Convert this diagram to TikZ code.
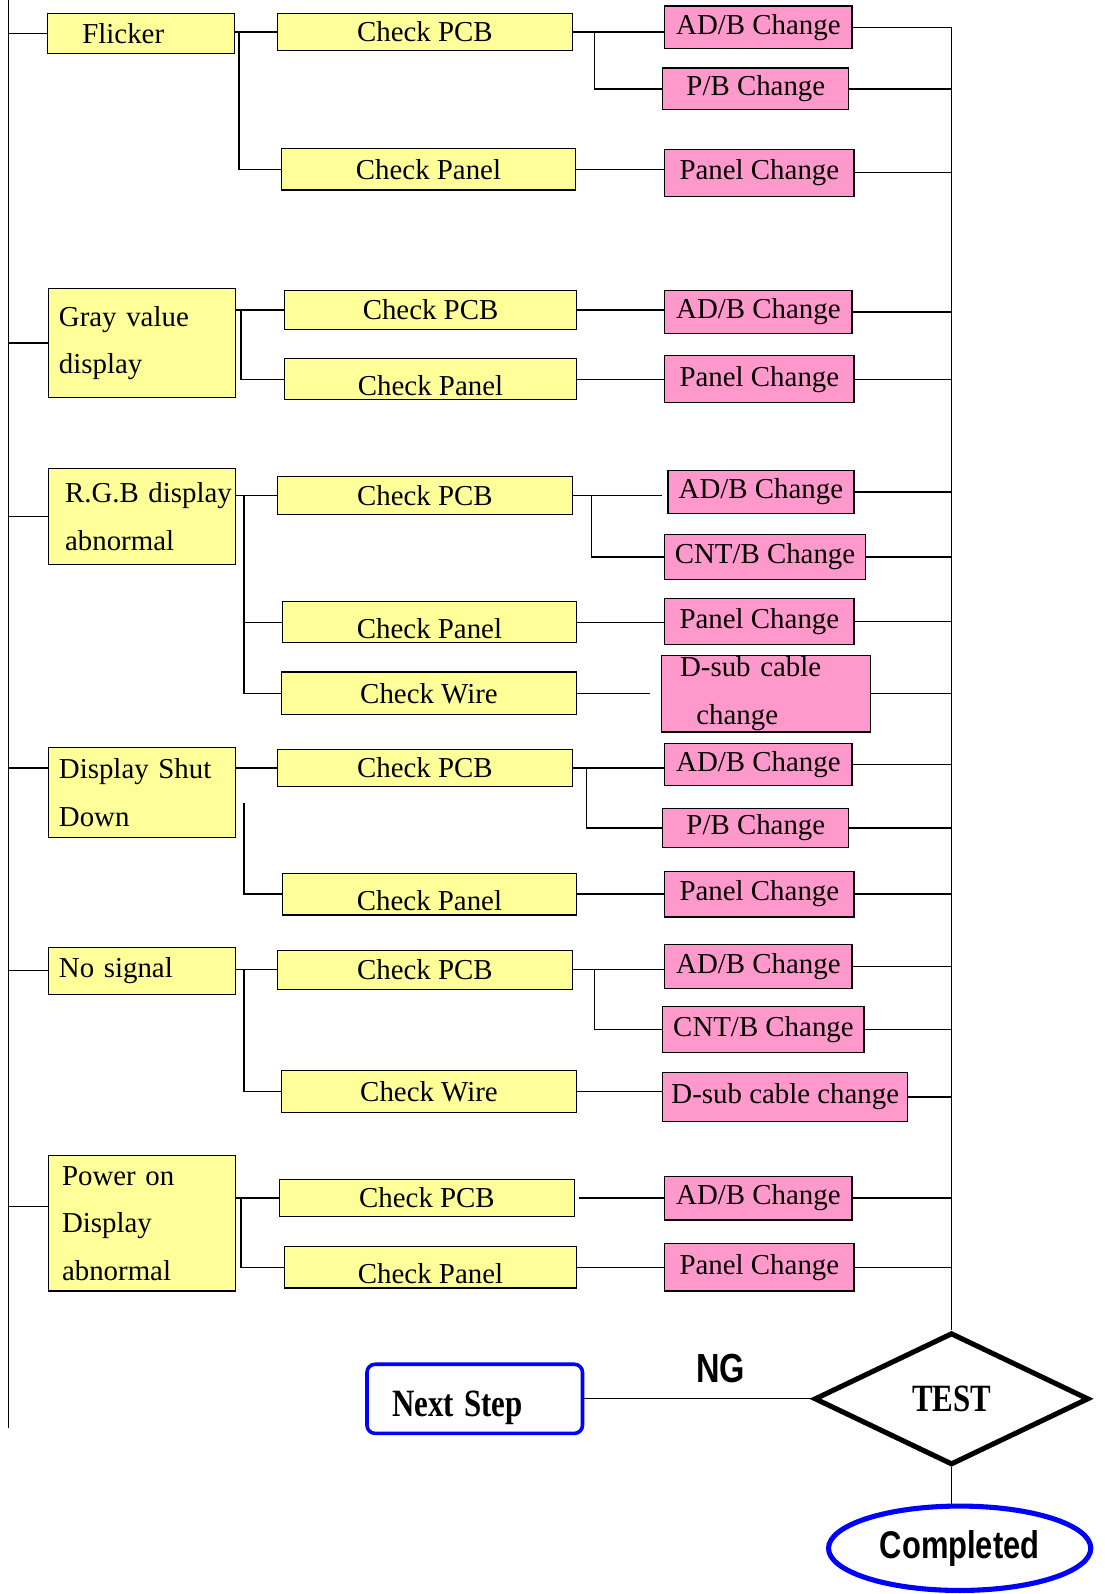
\documentclass[tikz,border=0pt]{standalone}
\usepackage{fontspec}
\setmainfont{Liberation Serif}
\setsansfont{Liberation Sans}
\usepackage{tikz}
\usetikzlibrary{shapes.geometric}
\definecolor{yfill}{HTML}{FFFF99}
\definecolor{pfill}{HTML}{FF99CC}
\definecolor{edge}{HTML}{0000FF}
\newcommand\narrowtext[1]{\scalebox{0.8}[1]{#1}}
\tikzset{
  cause/.style={draw, fill=yfill, line width=1.2pt, text width=172pt, inner xsep=6pt, inner ysep=0pt, align=left, font=\fontsize{28.4}{47}\selectfont},
  check/.style={draw, fill=yfill, line width=1.2pt, inner sep=0pt, minimum width=290pt, minimum height=39pt, font=\fontsize{28.4}{34}\selectfont},
  sunk/.style={text height=32pt, text depth=0pt},
  fix/.style={draw, fill=pfill, line width=1.2pt, inner sep=0pt, minimum height=44pt, font=\fontsize{28.4}{47}\selectfont},
  link/.style={line width=1.2pt},
}

\begin{document}
\begin{tikzpicture}[x=1pt, y=-1pt]
  \useasboundingbox (0,0) rectangle (1086,1568);

  % symptoms
  \node[cause, minimum height=40pt] (flk) at (139,33) {\hspace*{28pt}Flicker};
  \node[cause, minimum height=107pt] (gray) at (140,337.5) {\hspace*{4pt}Gray value\\\hspace*{4pt}display};
  \node[cause, minimum height=94pt] (rgb) at (140,508) {\mbox{\hspace*{10pt}R.G.B display}\\\hspace*{10pt}abnormal};
  \node[cause, minimum height=89pt] (shut) at (140,779.5) {\hspace*{4pt}Display Shut\\\hspace*{4pt}Down};
  \node[cause, minimum height=46pt] (nosig) at (140,955) {\hspace*{4pt}No signal};
  \node[cause, minimum height=133pt] (power) at (140,1203.5) {\hspace*{7pt}Power on\\\hspace*{7pt}Display\\\hspace*{7pt}abnormal};

  % checks
  \node[check, minimum height=37pt] (flkpcb) at (418,31.5) {Check PCB};
  \node[check, minimum width=289pt, minimum height=41pt] (flkpanel) at (421.5,166.5) {Check Panel};
  \node[check, minimum width=287pt, minimum height=38pt] (graypcb) at (423.5,305) {Check PCB};
  \node[check, sunk, minimum width=287pt, minimum height=40pt] (graypanel) at (423.5,373) {Check Panel};
  \node[check, minimum height=37pt] (rgbpcb) at (418,487.5) {Check PCB};
  \node[check, sunk, minimum width=289pt, minimum height=40pt] (rgbpanel) at (422.5,612) {Check Panel};
  \node[check, minimum height=42pt] (rgbwire) at (422,682) {Check Wire};
  \node[check, minimum height=37pt] (shutpcb) at (418,755.5) {Check PCB};
  \node[check, sunk, minimum width=289pt, minimum height=41pt] (shutpanel) at (422.5,879.5) {Check Panel};
  \node[check, minimum height=38pt] (nosigpcb) at (418,954) {Check PCB};
  \node[check, minimum height=41pt] (nosigwire) at (422,1073.5) {Check Wire};
  \node[check, minimum height=37pt] (powerpcb) at (420,1178.5) {Check PCB};
  \node[check, sunk, minimum width=287pt, minimum height=41pt] (powerpanel) at (423.5,1246.5) {Check Panel};

  % repairs
  \node[fix, minimum width=184pt, minimum height=42pt] (flkadb) at (746,27) {AD/B Change};
  \node[fix, minimum width=183pt, minimum height=41pt] (flkpb) at (743.5,87.5) {P/B Change};
  \node[fix, minimum width=186pt, minimum height=46pt] (flkpnl) at (747,170) {Panel Change};
  \node[fix, minimum width=184pt, minimum height=42pt] (grayadb) at (746,307) {AD/B Change};
  \node[fix, minimum width=186pt, minimum height=46pt] (graypnl) at (747,373) {Panel Change};
  \node[fix, minimum width=183pt, minimum height=42pt] (rgbadb) at (748.5,484) {AD/B Change};
  \node[fix, minimum width=197pt, minimum height=44pt] (rgbcnt) at (752.5,548) {CNT/B Change};
  \node[fix, minimum width=186pt, minimum height=45pt] (rgbpnl) at (747,611.5) {Panel Change};
  \node[fix, minimum height=75pt, text width=169pt, inner xsep=18pt, align=left] (rgbdsub) at (753.5,682.5) {D-sub cable\\\hspace*{16pt}change};
  \node[fix, minimum width=184pt, minimum height=42pt] (shutadb) at (746,752) {AD/B Change};
  \node[fix, minimum width=183pt, minimum height=39pt] (shutpb) at (743.5,814.5) {P/B Change};
  \node[fix, minimum width=186pt, minimum height=45pt] (shutpnl) at (747,879.5) {Panel Change};
  \node[fix, minimum width=184pt, minimum height=43pt] (nosigadb) at (746,950.5) {AD/B Change};
  \node[fix, minimum width=198pt, minimum height=45pt] (nosigcnt) at (751,1012.5) {CNT/B Change};
  \node[fix, minimum width=241pt, minimum height=48pt] (nosigdsub) at (772.5,1079) {D-sub cable change};
  \node[fix, minimum width=184pt, minimum height=43pt] (poweradb) at (746,1178.5) {AD/B Change};
  \node[fix, minimum width=186pt, minimum height=47pt] (powerpnl) at (747,1246.5) {Panel Change};

  % test and outcome
  \node[draw, diamond, line width=5pt, aspect=2.08, minimum width=270pt, minimum height=130pt, inner sep=0pt,
        font=\bfseries\fontsize{38}{40}\selectfont] (test) at (936,1376) {\narrowtext{TEST}};
  \node[draw=edge, line width=3.5pt, rounded corners=8pt, minimum height=68pt, text width=162pt, inner xsep=25pt,
        inner ysep=0pt, text height=43pt, text depth=8pt, align=left,
        font=\bfseries\fontsize{38}{40}\selectfont] (next) at (467,1376) {\narrowtext{Next Step}};
  \node[draw=edge, ellipse, line width=5pt, minimum width=258pt, minimum height=83pt, inner sep=0pt,
        font=\sffamily\bfseries\fontsize{38}{40}\selectfont] (done) at (944,1523) {\narrowtext{Completed}};

  \coordinate (spine) at (8,0);
  \coordinate (spineend) at (8,1405);
  \coordinate (spinepower) at (8,1187);
  \coordinate (bus) at (936,27);
  \coordinate (j1) at (235,0);
  \coordinate (j2) at (237,0);
  \coordinate (j3) at (240,0);
  \coordinate (j4) at (240,790);
  \coordinate (j5) at (240,0);
  \coordinate (j6) at (237,0);
  \coordinate (k1) at (585,0);
  \coordinate (k3) at (582,0);
  \coordinate (k4) at (577,0);
  \coordinate (k5) at (585,0);

  \draw[link] (spine) -- (spineend);
  \draw[link] (bus) -- (test.north);

  % flicker
  \draw[link] (spine |- flk.west) -- (flk.west);
  \draw[link] (flk.east |- flkpcb.west) -- (flkpcb.west);
  \draw[link] (j1 |- flkpcb.west) |- (flkpanel.west);
  \draw[link] (flkpcb.east) -- (flkpcb.east -| flkadb.west);
  \draw[link] (k1 |- flkpcb.east) |- (flkpb.west);
  \draw[link] (flkpanel.east) -- (flkpanel.east -| flkpnl.west);

  % gray value
  \draw[link] (spine |- gray.west) -- (gray.west);
  \draw[link] (gray.east |- graypcb.west) -- (graypcb.west);
  \draw[link] (j2 |- graypcb.west) |- (graypanel.west);
  \draw[link] (graypcb.east) -- (graypcb.east -| grayadb.west);
  \draw[link] (graypanel.east) -- (graypanel.east -| graypnl.west);

  % rgb
  \draw[link] (spine |- rgb.west) -- (rgb.west);
  \draw[link] (rgb.east |- rgbpcb.west) -- (rgbpcb.west);
  \draw[link] (j3 |- rgbpcb.west) |- (rgbwire.west);
  \draw[link] (j3 |- rgbpanel.west) -- (rgbpanel.west);
  \draw[link, shorten >=5pt] (rgbpcb.east) -- (rgbpcb.east -| rgbadb.west);
  \draw[link] (k3 |- rgbpcb.east) |- (rgbcnt.west);
  \draw[link] (rgbpanel.east) -- (rgbpanel.east -| rgbpnl.west);
  \draw[link, shorten >=11pt] (rgbwire.east) -- (rgbwire.east -| rgbdsub.west);

  % shut down
  \draw[link] (spine |- shutpcb.west) -- (shut.west |- shutpcb.west);
  \draw[link] (shut.east |- shutpcb.west) -- (shutpcb.west);
  \draw[link] (j4) |- (shutpanel.west);
  \draw[link] (shutpcb.east) -- (shutpcb.east -| shutadb.west);
  \draw[link] (k4 |- shutpcb.east) |- (shutpb.west);
  \draw[link] (shutpanel.east) -- (shutpanel.east -| shutpnl.west);

  % no signal
  \draw[link] (spine |- nosig.west) -- (nosig.west);
  \draw[link] (nosig.east |- nosigpcb.west) -- (nosigpcb.west);
  \draw[link] (j5 |- nosigpcb.west) |- (nosigwire.west);
  \draw[link] (nosigpcb.east) -- (nosigpcb.east -| nosigadb.west);
  \draw[link] (k5 |- nosigpcb.east) |- (nosigcnt.west);
  \draw[link] (nosigwire.east) -- (nosigwire.east -| nosigdsub.west);

  % power on
  \draw[link] (spinepower) -- (power.west |- spinepower);
  \draw[link] (power.east |- powerpcb.west) -- (powerpcb.west);
  \draw[link] (j6 |- powerpcb.west) |- (powerpanel.west);
  \draw[link, shorten <=4pt] (powerpcb.east) -- (powerpcb.east -| poweradb.west);
  \draw[link] (powerpanel.east) -- (powerpanel.east -| powerpnl.west);

  % into the test bus
  \draw[link] (flkadb.east) -- (bus |- flkadb.east);
  \draw[link] (flkpb.east) -- (bus |- flkpb.east);
  \draw[link] (flkpnl.east) -- (bus |- flkpnl.east);
  \draw[link] (grayadb.east) -- (bus |- grayadb.east);
  \draw[link] (graypnl.east) -- (bus |- graypnl.east);
  \draw[link] (rgbadb.east) -- (bus |- rgbadb.east);
  \draw[link] (rgbcnt.east) -- (bus |- rgbcnt.east);
  \draw[link] (rgbpnl.east) -- (bus |- rgbpnl.east);
  \draw[link] (rgbdsub.east) -- (bus |- rgbdsub.east);
  \draw[link] (shutadb.east) -- (bus |- shutadb.east);
  \draw[link] (shutpb.east) -- (bus |- shutpb.east);
  \draw[link] (shutpnl.east) -- (bus |- shutpnl.east);
  \draw[link] (nosigadb.east) -- (bus |- nosigadb.east);
  \draw[link] (nosigcnt.east) -- (bus |- nosigcnt.east);
  \draw[link] (nosigdsub.east) -- (bus |- nosigdsub.east);
  \draw[link] (poweradb.east) -- (bus |- poweradb.east);
  \draw[link] (powerpnl.east) -- (bus |- powerpnl.east);

  % result branches
  \draw[link] (next.east) -- node[pos=0.6, above=15pt, inner sep=0pt, font=\sffamily\bfseries\fontsize{40}{42}\selectfont] (ng) {\narrowtext{NG}} (test.west);
  \draw[link] (test.south) -- (test.south |- done.north);
\end{tikzpicture}
\end{document}
